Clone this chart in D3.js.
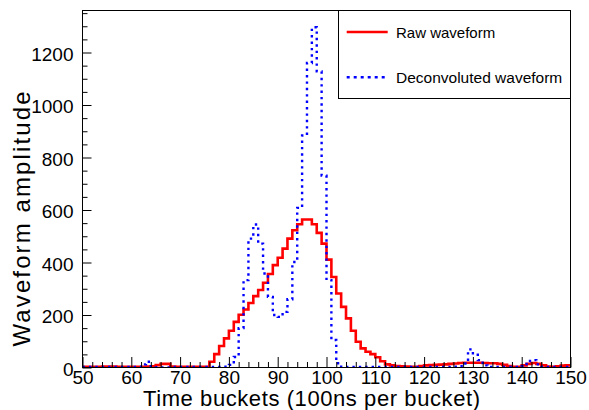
<!DOCTYPE html>
<html>
<head>
<meta charset="utf-8">
<script src="https://cdn.jsdelivr.net/npm/d3@7"></script>
<style>
  body { margin: 0; background: #fff; }
  svg text { font-family: "Liberation Sans", Arial, Helvetica, sans-serif; fill: #000; }
</style>
</head>
<body>
<div id="chart"></div>
<script>
// bins of width 1, starting at time bucket 50
const binStart = 50;
const rawWaveform = [
  3, 3, 3, 3, 4, 4, 4, 3, 3, 3,
  3, 3, 3, 4, 5, 9, 14, 14, 4, 3,
  3, 3, 3, 3, 3, 3, 22, 51, 82, 111,
  140, 174, 201, 221, 246, 272, 295, 323, 356, 390,
  418, 453, 491, 523, 546, 564, 564, 546, 513, 472,
  411, 345, 282, 231, 187, 140, 98, 73, 60, 51,
  39, 24, 12, 8, 6, 5, 4, 3, 3, 6,
  8, 9, 10, 11, 12, 14, 15, 17, 18, 18,
  18, 18, 17, 16, 16, 14, 10, 6, 3, 3,
  8, 14, 17, 14, 8, 4, 3, 5, 7, 8
];
const deconvolutedWaveform = [
  2, 2, 2, 2, 2, 2, 2, 2, 2, 2,
  2, 2, 12, 22, 5, 1, 0, 0, 1, 2,
  2, 2, 2, 2, 2, 2, 2, 2, 2, 3,
  10, 40, 150, 333, 491, 545, 472, 358, 269, 200,
  193, 212, 260, 402, 608, 884, 1160, 1296, 1128, 731,
  333, 105, 16, 3, 2, 2, 2, 2, 2, 2,
  2, 2, 2, 2, 2, 2, 2, 2, 2, 2,
  2, 2, 2, 2, 2, 2, 3, 5, 15, 69,
  54, 28, 8, 2, 2, 2, 2, 2, 2, 2,
  5, 25, 28, 12, 3, 2, 2, 2, 2, 2
];
const xMajorTicks = [50, 60, 70, 80, 90, 100, 110, 120, 130, 140, 150];
const yMajorTicks = [0, 200, 400, 600, 800, 1000, 1200];
const legendLabels = ["Raw waveform", "Deconvoluted waveform"];
const xTitle = "Time buckets (100ns per bucket)";
const yTitle = "Waveform amplitude";

const W = 589, H = 410;
const frame = { left: 82.5, right: 570.5, top: 10.5, bottom: 367.5 };

const svg = d3.select("#chart").append("svg")
    .attr("width", W)
    .attr("height", H);

const x = d3.scaleLinear().domain([50, 150]).range([frame.left, frame.right]);
const y = d3.scaleLinear().domain([0, 1360]).range([frame.bottom, frame.top]);

svg.append("clipPath").attr("id", "clip")
  .append("rect")
    .attr("x", frame.left).attr("y", frame.top)
    .attr("width", frame.right - frame.left)
    .attr("height", frame.bottom - frame.top);

// histogram outline as steps
function steps(values) {
    const pts = values.map((v, i) => [binStart + i, v]);
    pts.push([binStart + values.length, values[values.length - 1]]);
    return pts;
}
const line = d3.line()
    .x(d => x(d[0]))
    .y(d => y(d[1]))
    .curve(d3.curveStepAfter);

const plot = svg.append("g").attr("clip-path", "url(#clip)");

plot.append("path")
    .attr("d", line(steps(rawWaveform)))
    .attr("fill", "none")
    .attr("stroke", "#ff0000")
    .attr("stroke-width", 2.6);

plot.append("path")
    .attr("d", line(steps(deconvolutedWaveform)))
    .attr("fill", "none")
    .attr("stroke", "#0000ff")
    .attr("stroke-width", 2.4)
    .attr("stroke-dasharray", "2.4,4");

// frame
svg.append("rect")
    .attr("x", frame.left).attr("y", frame.top)
    .attr("width", frame.right - frame.left)
    .attr("height", frame.bottom - frame.top)
    .attr("fill", "none")
    .attr("stroke", "#000")
    .attr("stroke-width", 1);

// x axis, ticks pointing inward
const xMinor = d3.range(50, 151, 2).filter(v => !xMajorTicks.includes(v));
svg.append("g")
    .attr("transform", `translate(0,${frame.bottom})`)
    .call(d3.axisBottom(x).tickValues(xMinor).tickSizeInner(-5.5).tickSizeOuter(0).tickFormat(""))
    .call(g => g.select(".domain").remove());

svg.append("g")
    .attr("transform", `translate(0,${frame.bottom})`)
    .call(d3.axisBottom(x).tickValues(xMajorTicks).tickSizeInner(-10.5).tickSizeOuter(0)
        .tickPadding(2.5).tickFormat(d3.format("d")))
    .call(g => g.select(".domain").remove())
    .selectAll("text")
    .style("font-size", "19px")
    .attr("font-family", null);

// y axis
const yMinor = d3.range(0, 1360, 50).filter(v => !yMajorTicks.includes(v));
svg.append("g")
    .attr("transform", `translate(${frame.left},0)`)
    .call(d3.axisLeft(y).tickValues(yMinor).tickSizeInner(-5).tickSizeOuter(0).tickFormat(""))
    .call(g => g.select(".domain").remove());

svg.append("g")
    .attr("transform", `translate(${frame.left},0)`)
    .call(d3.axisLeft(y).tickValues(yMajorTicks).tickSizeInner(-9).tickSizeOuter(0)
        .tickPadding(9).tickFormat(d3.format("d")))
    .call(g => g.select(".domain").remove())
    .selectAll("text")
    .attr("dy", "0.42em")
    .style("font-size", "19px")
    .attr("font-family", null);

svg.selectAll(".tick line").attr("stroke", "#000");

// axis titles
svg.append("text")
    .attr("x", 143)
    .attr("y", 405.5)
    .attr("textLength", 337)
    .attr("lengthAdjust", "spacing")
    .style("font-size", "22px")
    .text(xTitle);

svg.append("text")
    .attr("transform", "translate(30,219) rotate(-90)")
    .attr("text-anchor", "middle")
    .attr("textLength", 255)
    .attr("lengthAdjust", "spacing")
    .style("font-size", "24px")
    .text(yTitle);

// legend
const legend = svg.append("g");
legend.append("rect")
    .attr("x", 338.5).attr("y", 10.5)
    .attr("width", 232).attr("height", 88)
    .attr("fill", "#fff")
    .attr("stroke", "#000")
    .attr("stroke-width", 1);

const legendStyle = [
    { stroke: "#ff0000", dash: null, width: 2.6 },
    { stroke: "#0000ff", dash: "3,4", width: 2.4 }
];
legendLabels.forEach((label, i) => {
    const cy = 32 + i * 45.3;
    legend.append("line")
        .attr("x1", 346.7).attr("x2", 387.7)
        .attr("y1", cy).attr("y2", cy)
        .attr("stroke", legendStyle[i].stroke)
        .attr("stroke-width", legendStyle[i].width)
        .attr("stroke-dasharray", legendStyle[i].dash);
    legend.append("text")
        .attr("x", 396)
        .attr("y", cy + 6)
        .style("font-size", i === 0 ? "15px" : "15.5px")
        .text(label);
});
</script>
</body>
</html>
